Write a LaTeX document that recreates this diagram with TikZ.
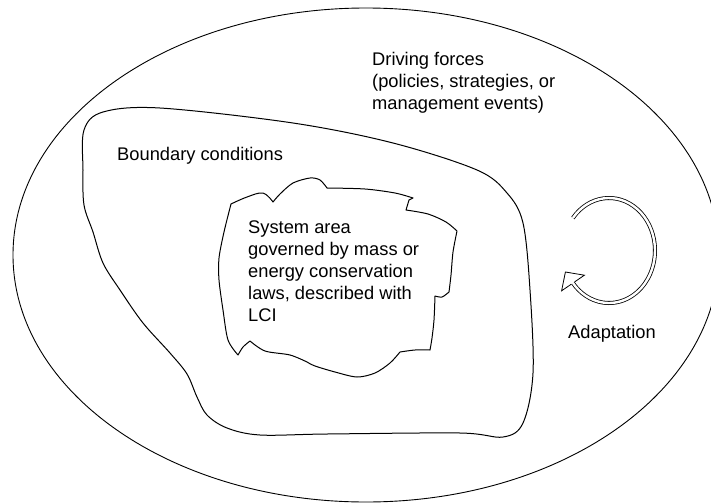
\documentclass[tikz,border=0pt]{standalone}
\usepackage{fontspec}
\setmainfont{Liberation Sans}
\usetikzlibrary{calc,positioning}
\tikzset{
  lbl/.style={font=\fontsize{18.3}{22}\selectfont, align=left, anchor=base west, inner sep=0pt},
  blob/.style={line width=1pt, line join=round}
}

\begin{document}
\begin{tikzpicture}[x=1pt,y=1pt]
  \useasboundingbox (0,0) rectangle (711,-503);
  % driving forces
  \draw[line width=0.9pt] (366,-255) ellipse (353 and 247);
  % boundary conditions
  \draw[blob] plot[smooth cycle, tension=0.55] coordinates {
    (84,-130) (83,-170) (84,-205) (93,-232) (103,-263) (120,-290) (143,-323)
    (170,-353) (187,-374) (197,-397) (207,-415) (227,-428) (260,-435)
    (327,-434) (460,-433) (503,-437) (523,-423) (533,-373) (530,-290)
    (523,-223) (507,-193) (477,-170) (393,-143) (293,-123) (160,-108) (103,-112)};
  % system area
  \draw[blob] plot[smooth, tension=0.6] coordinates {(231,-204) (247,-197) (263,-193) (273,-202)}
    -- plot[smooth] coordinates {(273,-202) (280,-194) (293,-183) (310,-178) (320,-180) (327,-188)}
    -- plot[smooth] coordinates {(327,-188) (365,-189) (395,-193) (413,-198)}
    -- (409,-200) -- (406,-210)
    -- plot[smooth] coordinates {(406,-210) (428,-214) (446,-222) (457,-231)}
    -- plot[smooth] coordinates {(457,-231) (453,-252) (451,-275) (449,-292)}
    -- plot[smooth] coordinates {(449,-292) (442,-297) (435,-296)}
    -- plot[smooth] coordinates {(435,-296) (434,-320) (432,-338) (430,-350)}
    -- plot[smooth] coordinates {(430,-350) (415,-350) (400,-352)}
    -- plot[smooth] coordinates {(400,-352) (390,-363) (375,-373) (357,-377) (335,-372) (315,-366) (307,-362)}
    -- plot[smooth] coordinates {(307,-362) (290,-355) (265,-351) (250,-341)}
    -- plot[smooth] coordinates {(250,-341) (243,-347) (238,-355)}
    -- plot[smooth] coordinates {(238,-355) (228,-340) (223,-310) (219,-280) (219,-258) (224,-232) (231,-204)}
    -- cycle;
  % adaptation loop
  \draw[double, double distance=2.4pt, line width=0.8pt] (609,-250.5) ++(141.8:46 and 52.5)
    arc[start angle=141.8, end angle=-141.8, x radius=46, y radius=52.5] coordinate (loopend);
  \fill[white] (565.4,-272) -- (584.4,-275.2) -- (561.6,-290.8) -- cycle;
  \draw[line width=0.8pt, line join=miter] (574.6,-281.9) -- (584.4,-275.2) -- (565.4,-272) -- (561.6,-290.8) -- (571.4,-284.1);

  \node[lbl] (driving) at (372,-109) {Driving forces\\(policies, strategies, or\\management events)};
  \node[lbl] (boundary) at (117,-160) {Boundary conditions};
  \node[lbl] (system) at (248,-321) {System area\\governed by mass or\\energy conservation\\laws, described with\\LCI};
  \node[lbl] (adapt) at (568,-338) {Adaptation};
\end{tikzpicture}
\end{document}
